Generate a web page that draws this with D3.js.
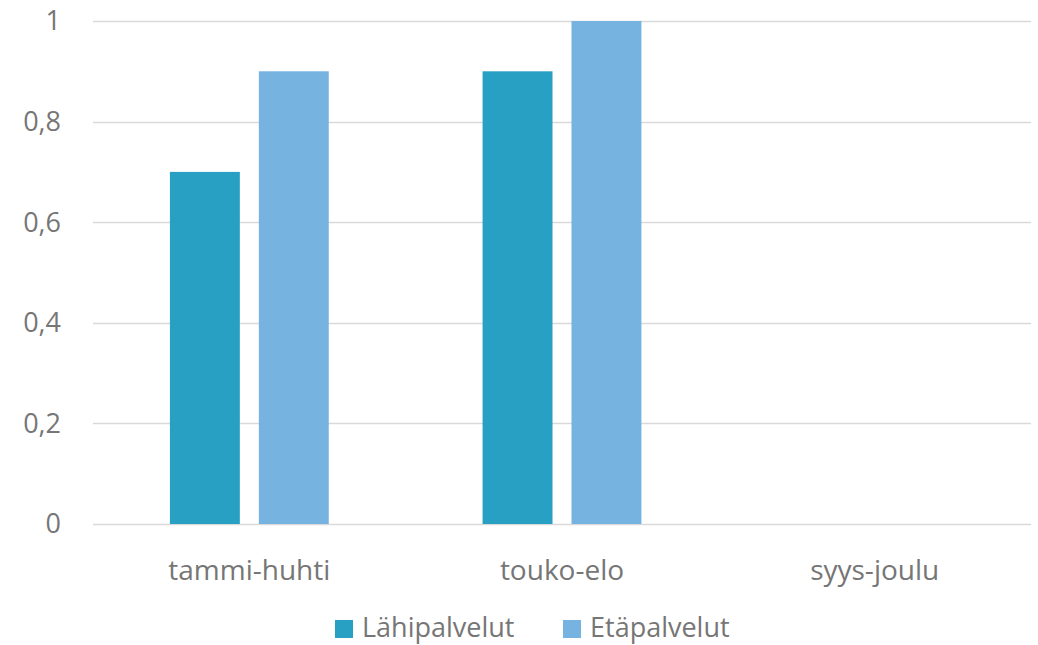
<!DOCTYPE html>
<html lang="fi">
<head>
<meta charset="utf-8">
<title>Lähipalvelut ja Etäpalvelut</title>
<script src="https://d3js.org/d3.v7.min.js"></script>
<style>
  body { margin: 0; background: #fff; }
  text { font-family: "Source Sans Pro", "Open Sans", "Noto Sans", sans-serif; fill: #767676; }
</style>
</head>
<body>
<script>
// categories and series
var categories = ["tammi-huhti", "touko-elo", "syys-joulu"];
var seriesNames = ["Lähipalvelut", "Etäpalvelut"];
var lahipalvelut = [0.7, 0.9, 0];
var etapalvelut = [0.9, 1.0, 0];
var yTicks = [0, 0.2, 0.4, 0.6, 0.8, 1];
var colors = ["#28a0c4", "#76b3e1"];

var width = 1038, height = 645;
var margin = {top: 21, right: 7, bottom: 121, left: 93};

var svg = d3.select("body").append("svg")
    .attr("width", width)
    .attr("height", height);

var x = d3.scaleBand()
    .domain(categories)
    .range([margin.left, width - margin.right]);

// two bars per category, with a small gap between them
var x1 = d3.scaleBand()
    .domain(seriesNames)
    .range([0, x.bandwidth()])
    .paddingInner(0.2135)
    .paddingOuter(0.865);

var y = d3.scaleLinear()
    .domain([0, 1])
    .range([height - margin.bottom, margin.top]);

// gridlines
svg.append("g")
    .selectAll("line")
    .data(yTicks)
    .enter().append("line")
    .attr("x1", margin.left)
    .attr("x2", width - margin.right)
    .attr("y1", function(d) { return Math.round(y(d)) + 0.5; })
    .attr("y2", function(d) { return Math.round(y(d)) + 0.5; })
    .attr("stroke", "#d9d9d9")
    .attr("stroke-width", 1.5);

// y labels, Finnish decimal comma
var fmt = function(d) { return String(d).replace(".", ","); };
svg.append("g")
    .selectAll("text")
    .data(yTicks)
    .enter().append("text")
    .attr("x", 61)
    .attr("y", function(d) { return y(d); })
    .attr("dy", "0.35em")
    .attr("text-anchor", "end")
    .style("font-size", "27px")
    .text(fmt);

// bars
var rows = categories.map(function(c, i) {
    return {cat: c, vals: [lahipalvelut[i], etapalvelut[i]]};
});

var groups = svg.append("g")
    .selectAll("g")
    .data(rows)
    .enter().append("g")
    .attr("transform", function(d) { return "translate(" + x(d.cat) + ",0)"; });

groups.selectAll("rect")
    .data(function(d) { return d.vals.map(function(v, j) { return {name: seriesNames[j], value: v, c: colors[j]}; }); })
    .enter().append("rect")
    .attr("x", function(d) { return x1(d.name); })
    .attr("width", x1.bandwidth())
    .attr("y", function(d) { return y(d.value); })
    .attr("height", function(d) { return y(0) - y(d.value); })
    .attr("fill", function(d) { return d.c; });

// category labels
svg.append("g")
    .selectAll("text")
    .data(categories)
    .enter().append("text")
    .attr("x", function(d) { return x(d) + x.bandwidth() / 2; })
    .attr("y", 580)
    .attr("text-anchor", "middle")
    .style("font-size", "28px")
    .text(function(d) { return d; });

// legend
var legendX = [335, 563];
var legend = svg.append("g")
    .selectAll("g")
    .data(seriesNames)
    .enter().append("g")
    .attr("transform", function(d, i) { return "translate(" + legendX[i] + ",620)"; });

legend.append("rect")
    .attr("width", 18)
    .attr("height", 18)
    .attr("fill", function(d, i) { return colors[i]; });

legend.append("text")
    .attr("x", 27)
    .attr("y", 8)
    .attr("dy", "0.35em")
    .style("font-size", "27px")
    .text(function(d) { return d; });
</script>
</body>
</html>
